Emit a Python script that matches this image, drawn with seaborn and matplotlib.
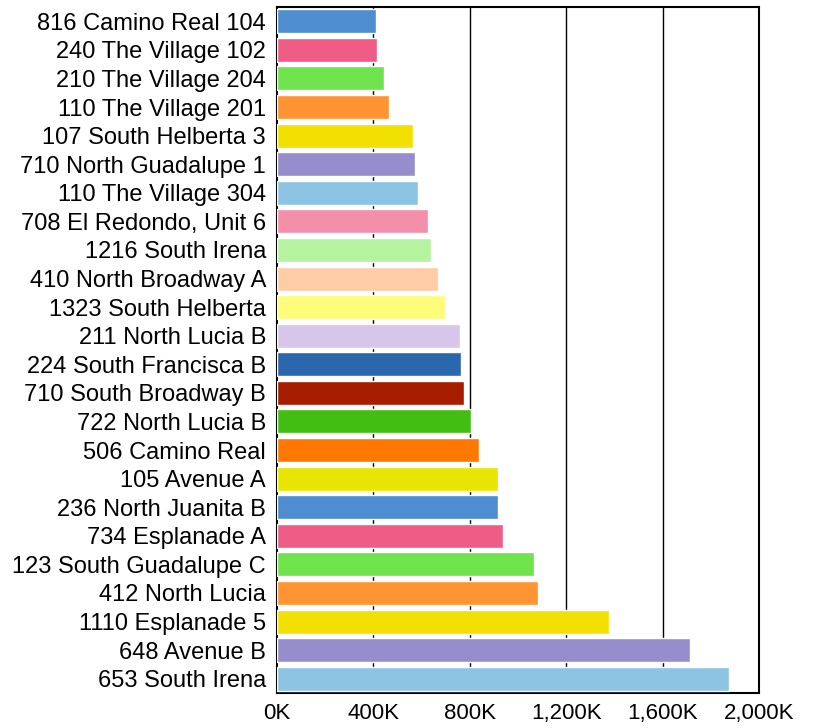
import numpy as np
import pandas as pd
from matplotlib import pyplot as plt
import seaborn as sns

# listings, top to bottom
names = ['816 Camino Real 104', '240 The Village 102', '210 The Village 204',
         '110 The Village 201', '107 South Helberta 3', '710 North Guadalupe 1',
         '110 The Village 304', '708 El Redondo, Unit 6', '1216 South Irena',
         '410 North Broadway A', '1323 South Helberta', '211 North Lucia B',
         '224 South Francisca B', '710 South Broadway B', '722 North Lucia B',
         '506 Camino Real', '105 Avenue A', '236 North Juanita B',
         '734 Esplanade A', '123 South Guadalupe C', '412 North Lucia',
         '1110 Esplanade 5', '648 Avenue B', '653 South Irena']
prices = [412, 417, 446, 466, 566, 574, 583, 625, 641, 670, 699, 761,
          765, 778, 803, 840, 915, 915, 936, 1065, 1081, 1379, 1713, 1876]
colors = ['#4D8DD0', '#EF5C86', '#6EE34B', '#FF9431', '#F2E000', '#968DCC',
          '#8EC4E3', '#F48FAB', '#B5F3A0', '#FFCCA6', '#FFFC7A', '#D5C6EA',
          '#2A67AD', '#A71D00', '#42BE12', '#FF7800', '#E8E500',
          '#4D8DD0', '#EF5C86', '#6EE34B', '#FF9431', '#F2E000', '#968DCC',
          '#8EC4E3']
xticks = [0, 400, 800, 1200, 1600, 2000]

df = pd.DataFrame({'name': names, 'price': prices})

sns.set_style('white')
plt.rcParams['font.family'] = ['Liberation Sans', 'DejaVu Sans']
plt.rcParams['text.color'] = 'black'
plt.rcParams['xtick.color'] = 'black'
plt.rcParams['ytick.color'] = 'black'

fig = plt.figure(figsize=(8.13, 7.28), dpi=100)
ax = fig.add_axes([0.3407, 0.0481, 0.5929, 0.9423])

sns.barplot(data=df, x='price', y='name', hue='name', palette=colors,
            legend=False, width=0.84, saturation=1, ax=ax, zorder=3)

ax.set_xlim(0, 2000)
ax.set_ylim(len(names) - 0.5, -0.5)
ax.set_xticks(xticks)
ax.set_xticklabels(['{:,}K'.format(v) for v in xticks], fontsize=16)
ax.tick_params(axis='x', direction='out', length=4, width=1, pad=3)
ax.tick_params(axis='y', which='major', length=0, labelsize=17, pad=8)
ax.set_yticks(np.arange(len(names) + 1) - 0.5, minor=True)
ax.tick_params(axis='y', which='minor', direction='in', length=3, width=1.5)
ax.set_xlabel('')
ax.set_ylabel('')
for v in xticks[1:-1]:
    ax.axvline(v, color='black', lw=1, zorder=1)
for s in ax.spines.values():
    s.set_visible(True)
    s.set_color('black')
    s.set_linewidth(1.5)

fig.savefig('out.png', dpi=100)
